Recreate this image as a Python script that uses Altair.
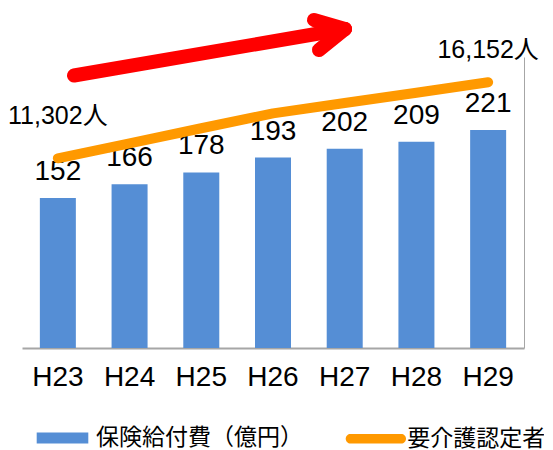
import altair as alt
import pandas as pd

# ---- data ----
years = ["H23", "H24", "H25", "H26", "H27", "H28", "H29"]
benefits = [152, 166, 178, 193, 202, 209, 221]            # 保険給付費（億円）
certified = [11302, 12260, 13220, 14170, 14830, 15490, 16152]  # 要介護認定者（人）
bar_series = "保険給付費（億円）"
line_series = "要介護認定者"

df = pd.DataFrame({
    "year": years,
    "benefit": benefits,
    "cert": certified,
    "s1": [bar_series] * len(years),
    "s2": [line_series] * len(years),
})

BLUE = "#558ED5"
ORANGE = "#FF9900"
RED = "#FF0000"
NUM_FONT = "Liberation Sans"
JP_FONT = "Noto Sans CJK JP"

x_enc = alt.X(
    "year:N",
    sort=years,
    scale=alt.Scale(paddingInner=0.5, paddingOuter=0.25),
    axis=alt.Axis(
        title=None, ticks=False, tickSize=0, labelAngle=0,
        labelFont=NUM_FONT, labelFontSize=28, labelColor="#000000",
        labelBaseline="alphabetic", labelPadding=37,
        domainColor="#A6A6A6", domainWidth=2, grid=False,
    ),
)

y_left = alt.Y("benefit:Q", scale=alt.Scale(domain=[0, 295], nice=False), axis=None)

base = alt.Chart(df)

bars = base.mark_bar(size=36).encode(
    x=x_enc,
    y=y_left,
    fill=alt.Fill(
        "s1:N",
        scale=alt.Scale(domain=[bar_series], range=[BLUE]),
        legend=alt.Legend(
            title=None, orient="none", legendX=28.5, legendY=369,
            symbolType="M-2.15,-0.46H2.15V0.46H-2.15Z", symbolSize=576,
            symbolStrokeWidth=0, symbolOpacity=1,
            labelFont=JP_FONT, labelFontSize=23, labelColor="#000000",
            labelOffset=21.5, labelLimit=400,
        ),
    ),
)

bar_labels = base.mark_text(
    dy=-18, baseline="alphabetic", align="center",
    font=NUM_FONT, fontSize=28, color="#000000",
).encode(x=alt.X("year:N", sort=years), y=y_left, text=alt.Text("benefit:Q"))

left_layer = alt.layer(bars, bar_labels)

y_right = alt.Y(
    "cert:Q",
    scale=alt.Scale(domain=[-803, 17767], nice=False, zero=False),
    axis=alt.Axis(
        orient="right", title=None, labels=False, ticks=False, grid=False,
        domainColor="#A6A6A6", domainWidth=1,
    ),
)

line = base.mark_line(strokeWidth=10, strokeCap="round", strokeJoin="round").encode(
    x=alt.X("year:N", sort=years),
    y=y_right,
    stroke=alt.Stroke(
        "s2:N",
        scale=alt.Scale(domain=[line_series], range=[ORANGE]),
        legend=alt.Legend(
            title=None, orient="none", legendX=338.85, legendY=366.7,
            symbolType="M-1.693,-0.317H1.693A0.317,0.317 0 0 1 1.693,0.317H-1.693A0.317,0.317 0 0 1 -1.693,-0.317Z",
            symbolSize=900, symbolFillColor=ORANGE, symbolStrokeWidth=0,
            labelFont=JP_FONT, labelFontSize=23, labelColor="#000000",
            labelOffset=16.45, labelLimit=400,
        ),
    ),
)

end_font = f"{NUM_FONT}, {JP_FONT}"
start_label = base.transform_filter(alt.datum.year == years[0]).transform_calculate(
    lab="format(datum.cert, ',') + '人'"
).mark_text(dy=-34, baseline="alphabetic", align="center", font=end_font,
            fontSize=25, color="#000000").encode(
    x=alt.X("year:N", sort=years), y=y_right, text="lab:N")

end_label = base.transform_filter(alt.datum.year == years[-1]).transform_calculate(
    lab="format(datum.cert, ',') + '人'"
).mark_text(dy=-24, baseline="alphabetic", align="center", font=end_font,
            fontSize=25, color="#000000").encode(
    x=alt.X("year:N", sort=years), y=y_right, text="lab:N")

right_layer = alt.layer(line, start_label, end_label)

# decorative red arrow (annotation, drawn in pixel space)
dummy = alt.Chart(pd.DataFrame({"k": [0]}))
arrow_style = dict(color=RED, strokeWidth=14, strokeCap="round")
shaft = dummy.mark_rule(**arrow_style).encode(
    x=alt.value(52), y=alt.value(18.5), x2=alt.value(323), y2=alt.value(-28))
wing1 = dummy.mark_rule(**arrow_style).encode(
    x=alt.value(292), y=alt.value(-37), x2=alt.value(323), y2=alt.value(-28))
wing2 = dummy.mark_rule(**arrow_style).encode(
    x=alt.value(297), y=alt.value(-7), x2=alt.value(323), y2=alt.value(-28))

chart = alt.layer(left_layer, right_layer, shaft, wing1, wing2).resolve_scale(
    y="independent"
).properties(
    width=502, height=291,
    autosize=alt.AutoSizeParams(type="none"),
    padding={"left": 14, "top": 49, "right": 20, "bottom": 102},
).configure_view(stroke=None)

chart.save("out.html", embed_options={"renderer": "svg", "actions": False})
